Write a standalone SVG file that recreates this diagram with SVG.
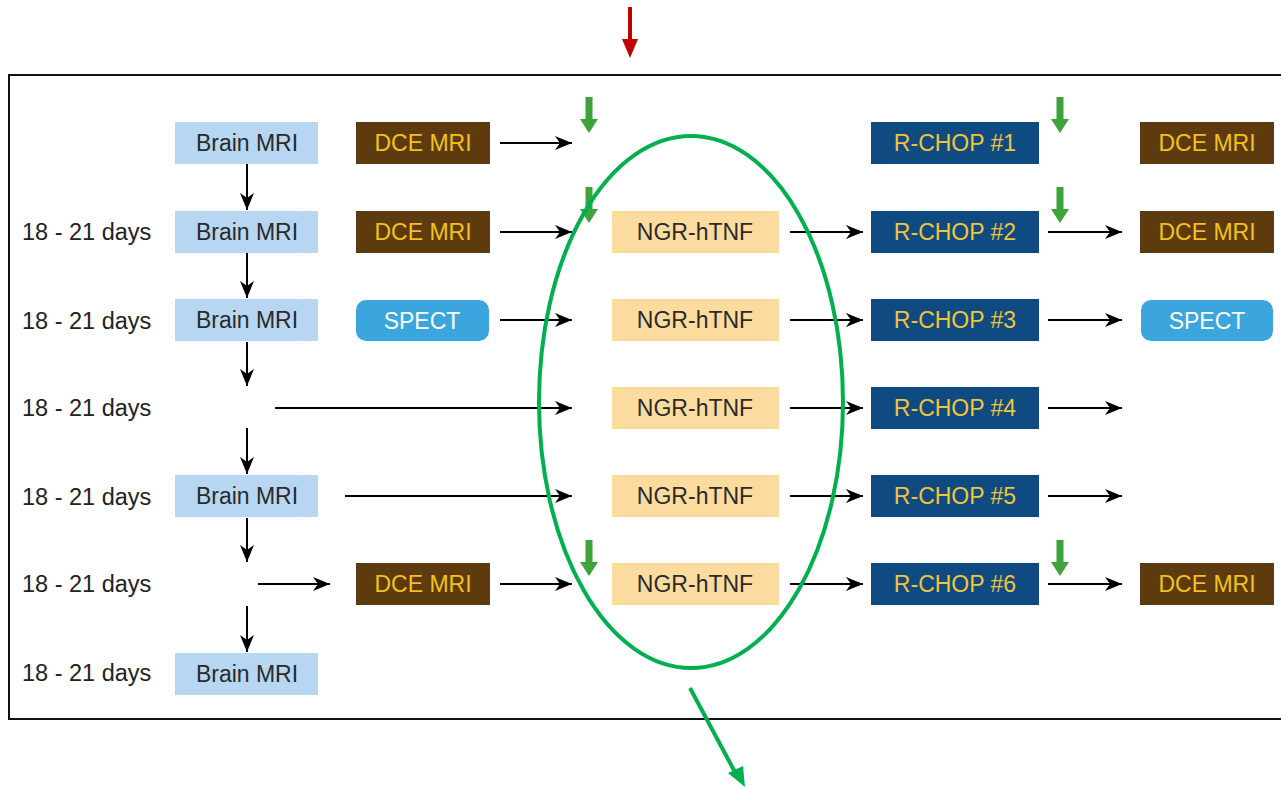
<svg xmlns="http://www.w3.org/2000/svg" width="1281" height="788" viewBox="0 0 1281 788">
<defs>
<style>
text{font-family:"Liberation Sans",Arial,sans-serif;font-size:23px;text-anchor:middle}
.lbl{text-anchor:start;fill:#222;font-size:23.5px}
.mri{fill:#b6d6f2}
.mri-t{fill:#2a2a2a}
.dce{fill:#5e3b0f}
.dce-t{fill:#f2c21b}
.spect{fill:#3aa6dd}
.spect-t{fill:#ffffff}
.ngr{fill:#fbdc9e}
.ngr-t{fill:#2a2a2a}
.rchop{fill:#0f4a80}
.rchop-t{fill:#f0c53c}
.c{stroke:#000;stroke-width:2;fill:none;marker-end:url(#ah)}
.g{fill:#3da33a}
</style>
<marker id="ah" markerWidth="18" markerHeight="16" refX="17" refY="8" orient="auto" markerUnits="userSpaceOnUse">
<path d="M0,1 L17,8 L0,15 L5,8 z" fill="#000"/>
</marker>
<path id="garrow" d="M-3.5,0 L3.5,0 L3.5,22 L9,22 L0,36 L-9,22 L-3.5,22 z"/>
</defs>
<rect width="1281" height="788" fill="#fff"/>
<rect x="9" y="75" width="1300" height="644" fill="none" stroke="#111" stroke-width="2"/>
<g id="red-arrow">
<line x1="630" y1="7" x2="630" y2="42" stroke="#c00000" stroke-width="4"/>
<path d="M622,39 L638,39 L630,58 z" fill="#c00000"/>
</g>
<g id="labels">
<text class="lbl" x="22" y="240">18 - 21 days</text>
<text class="lbl" x="22" y="329">18 - 21 days</text>
<text class="lbl" x="22" y="416">18 - 21 days</text>
<text class="lbl" x="22" y="505">18 - 21 days</text>
<text class="lbl" x="22" y="592">18 - 21 days</text>
<text class="lbl" x="22" y="681">18 - 21 days</text>
</g>
<g id="connectors">
<line class="c" x1="247" y1="164" x2="247" y2="210"/>
<line class="c" x1="247" y1="253" x2="247" y2="298"/>
<line class="c" x1="247" y1="342" x2="247" y2="386"/>
<line class="c" x1="247" y1="428" x2="247" y2="474"/>
<line class="c" x1="247" y1="518" x2="247" y2="562"/>
<line class="c" x1="247" y1="606" x2="247" y2="652"/>
<line class="c" x1="500" y1="143" x2="572" y2="143"/>
<line class="c" x1="500" y1="232" x2="572" y2="232"/>
<line class="c" x1="500" y1="320" x2="572" y2="320"/>
<line class="c" x1="275" y1="408" x2="572" y2="408"/>
<line class="c" x1="345" y1="496" x2="572" y2="496"/>
<line class="c" x1="258" y1="584" x2="330" y2="584"/>
<line class="c" x1="500" y1="584" x2="572" y2="584"/>
<line class="c" x1="790" y1="232" x2="863" y2="232"/>
<line class="c" x1="790" y1="320" x2="863" y2="320"/>
<line class="c" x1="790" y1="408" x2="863" y2="408"/>
<line class="c" x1="790" y1="496" x2="863" y2="496"/>
<line class="c" x1="790" y1="584" x2="863" y2="584"/>
<line class="c" x1="1048" y1="232" x2="1122" y2="232"/>
<line class="c" x1="1048" y1="320" x2="1122" y2="320"/>
<line class="c" x1="1048" y1="408" x2="1122" y2="408"/>
<line class="c" x1="1048" y1="496" x2="1122" y2="496"/>
<line class="c" x1="1048" y1="584" x2="1122" y2="584"/>
</g>
<g id="green-markers" class="g">
<use href="#garrow" x="589" y="97"/>
<use href="#garrow" x="589" y="187"/>
<use href="#garrow" x="589" y="540"/>
<use href="#garrow" x="1060" y="97"/>
<use href="#garrow" x="1060" y="187"/>
<use href="#garrow" x="1060" y="540"/>
</g>
<g id="mri1"><rect class="mri" x="175" y="122" width="143" height="42"/><text class="mri-t" x="247" y="151">Brain MRI</text></g>
<g id="mri2"><rect class="mri" x="175" y="211" width="143" height="42"/><text class="mri-t" x="247" y="240">Brain MRI</text></g>
<g id="mri3"><rect class="mri" x="175" y="299" width="143" height="42"/><text class="mri-t" x="247" y="328">Brain MRI</text></g>
<g id="mri5"><rect class="mri" x="175" y="475" width="143" height="42"/><text class="mri-t" x="247" y="504">Brain MRI</text></g>
<g id="mri7"><rect class="mri" x="175" y="653" width="143" height="42"/><text class="mri-t" x="247" y="682">Brain MRI</text></g>
<g id="dce1"><rect class="dce" x="356" y="122" width="134" height="42"/><text class="dce-t" x="423" y="151">DCE MRI</text></g>
<g id="dce2"><rect class="dce" x="356" y="211" width="134" height="42"/><text class="dce-t" x="423" y="240">DCE MRI</text></g>
<g id="spect1"><rect class="spect" x="356" y="300" width="133" height="41" rx="10"/><text class="spect-t" x="422" y="329">SPECT</text></g>
<g id="dce6"><rect class="dce" x="356" y="563" width="134" height="42"/><text class="dce-t" x="423" y="592">DCE MRI</text></g>
<g id="ngr2"><rect class="ngr" x="612" y="211" width="167" height="42"/><text class="ngr-t" x="695" y="240">NGR-hTNF</text></g>
<g id="ngr3"><rect class="ngr" x="612" y="299" width="167" height="42"/><text class="ngr-t" x="695" y="328">NGR-hTNF</text></g>
<g id="ngr4"><rect class="ngr" x="612" y="387" width="167" height="42"/><text class="ngr-t" x="695" y="416">NGR-hTNF</text></g>
<g id="ngr5"><rect class="ngr" x="612" y="475" width="167" height="42"/><text class="ngr-t" x="695" y="504">NGR-hTNF</text></g>
<g id="ngr6"><rect class="ngr" x="612" y="563" width="167" height="42"/><text class="ngr-t" x="695" y="592">NGR-hTNF</text></g>
<g id="rchop1"><rect class="rchop" x="871" y="122" width="168" height="42"/><text class="rchop-t" x="955" y="151">R-CHOP #1</text></g>
<g id="rchop2"><rect class="rchop" x="871" y="211" width="168" height="42"/><text class="rchop-t" x="955" y="240">R-CHOP #2</text></g>
<g id="rchop3"><rect class="rchop" x="871" y="299" width="168" height="42"/><text class="rchop-t" x="955" y="328">R-CHOP #3</text></g>
<g id="rchop4"><rect class="rchop" x="871" y="387" width="168" height="42"/><text class="rchop-t" x="955" y="416">R-CHOP #4</text></g>
<g id="rchop5"><rect class="rchop" x="871" y="475" width="168" height="42"/><text class="rchop-t" x="955" y="504">R-CHOP #5</text></g>
<g id="rchop6"><rect class="rchop" x="871" y="563" width="168" height="42"/><text class="rchop-t" x="955" y="592">R-CHOP #6</text></g>
<g id="dceR1"><rect class="dce" x="1140" y="122" width="134" height="42"/><text class="dce-t" x="1207" y="151">DCE MRI</text></g>
<g id="dceR2"><rect class="dce" x="1140" y="211" width="134" height="42"/><text class="dce-t" x="1207" y="240">DCE MRI</text></g>
<g id="spectR"><rect class="spect" x="1141" y="300" width="132" height="41" rx="10"/><text class="spect-t" x="1207" y="329">SPECT</text></g>
<g id="dceR6"><rect class="dce" x="1140" y="563" width="134" height="42"/><text class="dce-t" x="1207" y="592">DCE MRI</text></g>
<g id="highlight">
<ellipse cx="691" cy="402" rx="152" ry="266" fill="none" stroke="#00b050" stroke-width="4"/>
<line x1="690" y1="688" x2="736" y2="774" stroke="#00b050" stroke-width="4"/>
<path d="M728,773 L745,787 L743,766 z" fill="#00b050"/>
</g>
</svg>
